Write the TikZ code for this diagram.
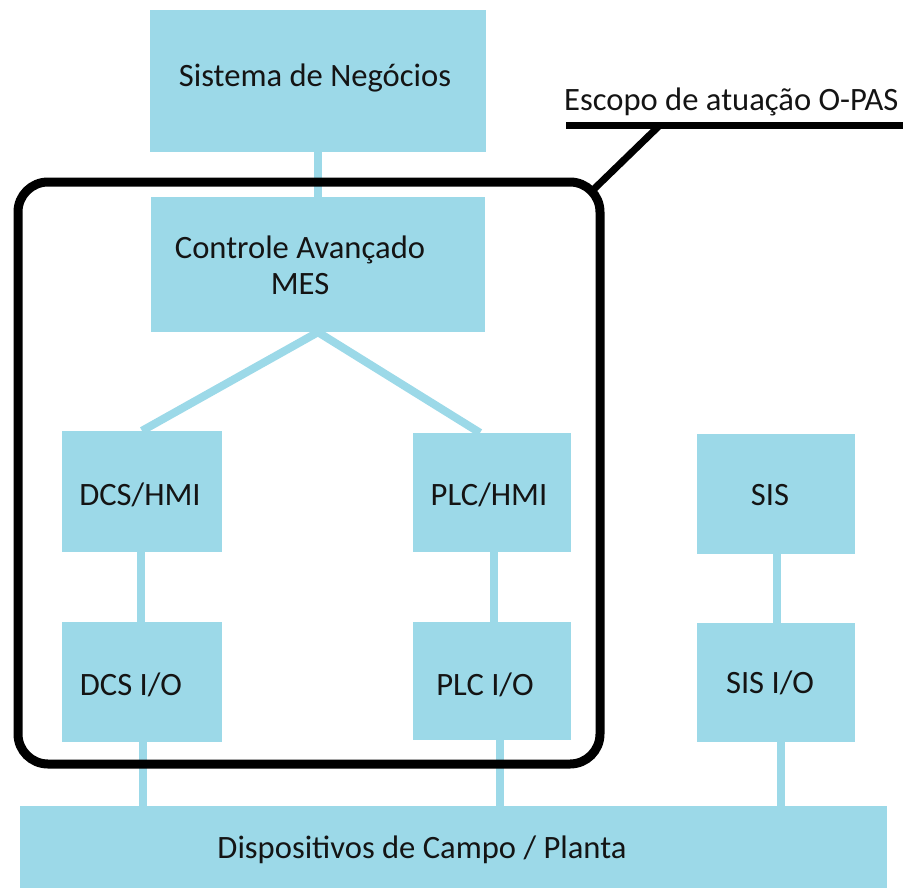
\documentclass[tikz,border=0pt]{standalone}
\usepackage{fontspec}
\setmainfont{Carlito}
\definecolor{boxblue}{RGB}{156,217,232}
\definecolor{txtdark}{RGB}{20,20,20}
\begin{document}
\begin{tikzpicture}[x=1pt,y=-1pt,
  box/.style={fill=boxblue,draw=none,inner sep=0pt,anchor=center},
  txt/.style={font=\fontsize{32.6}{36}\selectfont,text=txtdark,align=center,inner sep=0pt,anchor=center},
  conn/.style={draw=boxblue,line width=8pt},
  scopeline/.style={draw=black,line width=7pt}]
\useasboundingbox (0,0) rectangle (903,887);

% blue boxes
\node[box,minimum width=336pt,minimum height=142pt] (neg) at (318,81) {};
\node[box,minimum width=334pt,minimum height=135pt] (ctl) at (318,264.5) {};
\node[box,minimum width=160pt,minimum height=121pt] (dcshmi) at (142,491.5) {};
\node[box,minimum width=158pt,minimum height=119pt] (plchmi) at (492,492.5) {};
\node[box,minimum width=158pt,minimum height=120pt] (sis) at (776,494) {};
\node[box,minimum width=160pt,minimum height=120pt] (dcsio) at (142,682) {};
\node[box,minimum width=158pt,minimum height=118pt] (plcio) at (492,681) {};
\node[box,minimum width=158pt,minimum height=119pt] (sisio) at (776,682.5) {};
\node[box,minimum width=867pt,minimum height=82pt] (disp) at (453.5,847) {};

% box labels
\node[txt] (negtxt) at (315,78) {Sistema de Negócios};
\node[txt] (ctltxt) at (300,265) {Controle Avançado\\MES};
\node[txt] (dcshmitxt) at (140,495) {DCS/HMI};
\node[txt] (plchmitxt) at (489,495) {PLC/HMI};
\node[txt] (sistxt) at (770,495) {SIS};
\node[txt] (dcsiotxt) at (131,685) {DCS I/O};
\node[txt] (plciotxt) at (485,685) {PLC I/O};
\node[txt] (sisiotxt) at (770,683) {SIS I/O};
\node[txt] (disptxt) at (422,850) {Dispositivos de Campo / Planta};

% connectors
\draw[conn] (neg.south) -- (ctl.north);
\draw[conn] (ctl.south) -- (dcshmi.north);
\draw[conn] (ctl.south) -- ([xshift=-12pt]plchmi.north);
\draw[conn] ([xshift=-1pt]dcshmi.south) -- ([xshift=-1pt]dcsio.north);
\draw[conn] ([xshift=2pt]plchmi.south) -- ([xshift=2pt]plcio.north);
\draw[conn] ([xshift=1pt]sis.south) -- ([xshift=1pt]sisio.north);
\draw[conn] ([xshift=1pt]dcsio.south) -- ([xshift=1pt]dcsio.south |- disp.north);
\draw[conn] ([xshift=8pt]plcio.south) -- ([xshift=8pt]plcio.south |- disp.north);
\draw[conn] ([xshift=5pt]sisio.south) -- ([xshift=5pt]sisio.south |- disp.north);

% O-PAS scope frame and its callout
\node[draw=black,line width=9pt,rounded corners=30pt,inner sep=0pt,outer sep=0pt,
      minimum width=582pt,minimum height=582pt] (scope) at (309,473) {};
\coordinate (bend) at (660,125);
\coordinate (lineend) at (903,125);
\coordinate (corner) at (593,190);
\draw[scopeline] (corner) -- (bend);
\draw[scopeline] (566,125) -- (lineend);
\node[txt,anchor=base west] (scopetxt) at (564,110) {Escopo de atuação O-PAS};
\end{tikzpicture}
\end{document}
